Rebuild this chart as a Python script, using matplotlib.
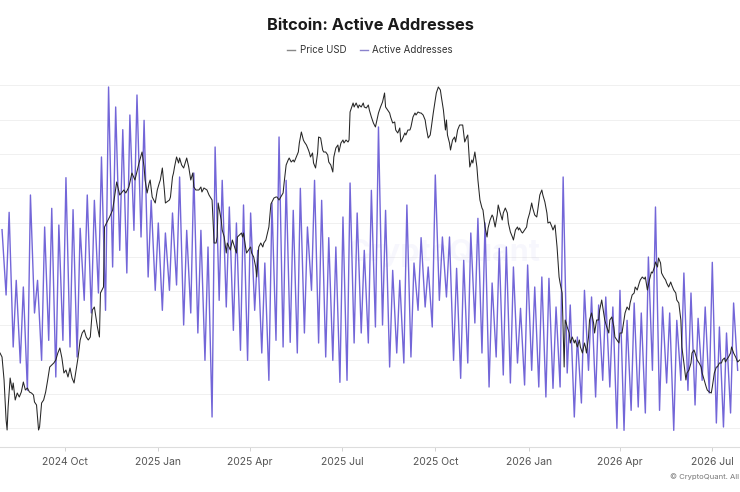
import numpy as np
import pandas as pd
import matplotlib
matplotlib.use("Agg")
import matplotlib.pyplot as plt
from matplotlib.lines import Line2D

plt.rcParams['font.family'] = ['Inter', 'DejaVu Sans']

# ---------------- data ----------------
START = pd.Timestamp("2024-07-29")
END = START + pd.Timedelta(days=729.3)

tick_dates = ["2024-10-01", "2025-01-01", "2025-04-01", "2025-07-01",
              "2025-10-01", "2026-01-01", "2026-04-01", "2026-07-01"]
tick_labels = ["2024 Oct", "2025 Jan", "2025 Apr", "2025 Jul",
               "2025 Oct", "2026 Jan", "2026 Apr", "2026 Jul"]

# Active addresses (thousands): weekly weekday highs (Wed) and weekend lows (Sun)
aa_first_peak = "2024-07-31"
aa_peaks = [776, 802, 700, 690, 828, 700, 780, 808, 783, 854,
            806, 778, 828, 820, 885, 990, 960, 926, 948, 978,
            940, 820, 786, 771, 801, 855, 775, 861, 775, 750,
            900, 850, 810, 786, 813, 801, 745, 726, 816, 915,
            850, 805, 838, 780, 850, 820, 764, 750, 795, 846,
            801, 745, 835, 930, 805, 715, 700, 813, 726, 764,
            720, 858, 765, 765, 718, 730, 771, 793, 786, 696,
            748, 750, 720, 658, 723, 690, 705, 703, 660, 855,
            663, 615, 685, 675, 663, 675, 660, 685, 640, 666,
            651, 735, 810, 660, 651, 640, 711, 681, 643, 660,
            727, 630, 621, 666]
aa_troughs = [678, 600, 576, 535, 651, 580, 610, 555, 610, 600,
              585, 670, 651, 681, 655, 720, 745, 711, 775, 765,
              705, 685, 655, 685, 693, 633, 651, 621, 580, 495,
              670, 660, 625, 595, 580, 655, 591, 550, 610, 600,
              607, 591, 621, 685, 606, 585, 580, 547, 550, 606,
              621, 606, 630, 633, 570, 591, 576, 585, 655, 660,
              630, 670, 675, 580, 553, 576, 636, 591, 540, 585,
              558, 546, 576, 543, 565, 540, 525, 538, 540, 561,
              495, 516, 565, 525, 550, 540, 478, 475, 505, 510,
              501, 565, 505, 546, 475, 550, 535, 513, 550, 531,
              486, 480, 501, 565]

# Price USD (thousands), day offset from START
price_day = [0, 2, 4, 6, 7, 8, 10, 12, 13, 15,
             17, 19, 21, 23, 25, 27, 29, 31, 33, 34,
             36, 38, 39, 41, 43, 45, 47, 49, 51, 53,
             55, 57, 59, 61, 63, 65, 67, 69, 71, 73,
             75, 77, 79, 81, 83, 85, 87, 89, 91, 93,
             95, 96, 98, 99, 102, 103, 105, 108, 111, 115,
             118, 122, 124, 127, 130, 133, 137, 140, 142, 143,
             145, 147, 148, 150, 153, 155, 157, 158, 160, 162,
             163, 167, 168, 170, 171, 172, 174, 176, 177, 179,
             181, 184, 186, 188, 190, 191, 193, 196, 198, 199,
             201, 204, 206, 209, 211, 213, 214, 215, 218, 219,
             221, 223, 224, 227, 229, 233, 234, 238, 239, 240,
             242, 243, 247, 248, 250, 252, 253, 255, 257, 259,
             260, 262, 265, 267, 268, 270, 272, 273, 275, 279,
             280, 282, 284, 285, 287, 289, 290, 292, 294, 295,
             297, 299, 300, 302, 304, 305, 306, 308, 309, 311,
             313, 314, 316, 318, 319, 321, 323, 324, 326, 328,
             329, 331, 333, 334, 336, 338, 339, 341, 343, 344,
             345, 348, 349, 351, 353, 354, 356, 358, 359, 361,
             363, 364, 366, 368, 370, 372, 373, 374, 375, 377,
             379, 380, 382, 384, 385, 387, 389, 390, 392, 394,
             395, 397, 399, 400, 402, 404, 405, 407, 409, 410,
             412, 414, 415, 417, 419, 420, 422, 424, 425, 427,
             429, 430, 432, 434, 435, 437, 439, 440, 441, 443,
             444, 446, 448, 449, 451, 453, 456, 458, 460, 461,
             463, 465, 466, 468, 470, 471, 473, 475, 476, 478,
             480, 481, 483, 485, 486, 488, 490, 491, 493, 495,
             496, 498, 500, 501, 503, 505, 506, 508, 510, 511,
             512, 514, 515, 517, 519, 520, 522, 524, 525, 527,
             529, 530, 532, 534, 535, 537, 539, 540, 542, 544,
             545, 547, 549, 551, 552, 554, 556, 557, 558, 559,
             561, 562, 564, 566, 567, 569, 571, 572, 574, 576,
             577, 578, 580, 581, 583, 585, 586, 588, 590, 591,
             593, 595, 596, 598, 600, 601, 603, 605, 606, 608,
             610, 611, 613, 615, 616, 618, 620, 621, 623, 625,
             626, 628, 630, 631, 633, 635, 636, 638, 640, 642,
             643, 645, 646, 648, 649, 651, 652, 654, 656, 657,
             659, 661, 662, 664, 666, 667, 669, 671, 672, 674,
             676, 677, 679, 681, 682, 684, 685, 687, 689, 691,
             692, 694, 696, 697, 699, 701, 702, 704, 706, 707,
             709, 711, 712, 714, 715, 716, 718, 720, 721, 723,
             725, 727, 729]
price_k = [70.8, 70.0, 65.4, 57.4, 55.4, 60.0, 65.8, 63.4, 64.8, 61.4,
           62.8, 62.0, 63.0, 65.0, 63.4, 63.8, 63.0, 62.8, 62.4, 61.0,
           60.4, 55.4, 56.0, 60.8, 61.4, 63.0, 65.4, 68.0, 68.4, 68.8,
           69.4, 70.8, 71.8, 69.8, 66.8, 67.4, 66.0, 67.8, 65.8, 64.8,
           67.4, 70.0, 73.4, 74.8, 75.4, 74.0, 73.4, 74.0, 79.4, 80.0,
           77.4, 76.0, 74.0, 82.8, 84.0, 96.0, 96.8, 98.0, 99.4, 105.0,
           102.4, 103.4, 102.8, 104.0, 106.8, 105.4, 108.8, 111.0, 108.0, 105.4,
           102.8, 104.8, 105.4, 102.0, 100.8, 103.4, 104.8, 105.4, 107.8, 103.4,
           100.8, 101.4, 102.0, 106.0, 106.8, 108.0, 110.0, 108.8, 109.8, 108.4,
           107.8, 109.8, 108.0, 105.4, 106.8, 104.0, 103.4, 103.4, 104.0, 103.0,
           103.8, 103.4, 102.4, 101.4, 92.8, 92.8, 94.0, 100.8, 97.4, 95.4,
           94.0, 90.8, 92.8, 91.4, 93.4, 90.8, 94.0, 94.8, 94.0, 94.8,
           92.0, 90.8, 92.0, 90.8, 90.0, 88.0, 86.0, 92.0, 92.8, 92.0,
           92.8, 93.4, 96.0, 100.6, 101.0, 101.8, 102.0, 102.0, 101.4, 102.8,
           104.8, 108.4, 109.4, 109.8, 109.0, 109.4, 109.0, 110.0, 111.0, 112.8,
           115.0, 113.4, 113.0, 112.4, 111.4, 110.8, 110.0, 110.8, 108.8, 107.8,
           110.8, 114.0, 113.8, 111.4, 111.0, 111.0, 110.4, 109.0, 108.4, 107.0,
           110.0, 111.8, 112.4, 111.0, 112.8, 113.4, 112.8, 113.4, 113.0, 113.4,
           119.0, 120.8, 120.0, 120.8, 119.8, 120.4, 120.0, 120.8, 120.0, 119.8,
           120.4, 119.4, 118.0, 116.8, 116.0, 117.8, 118.8, 119.4, 120.0, 121.0,
           122.8, 120.0, 119.4, 118.8, 118.0, 116.8, 117.0, 115.4, 114.8, 115.8,
           113.0, 113.8, 114.8, 114.4, 115.4, 115.4, 116.0, 118.0, 118.8, 118.4,
           119.0, 118.8, 118.8, 118.4, 117.4, 116.0, 113.8, 114.4, 115.8, 118.8,
           121.4, 122.8, 124.0, 123.4, 122.0, 119.4, 115.4, 117.4, 114.4, 112.8,
           111.4, 113.4, 114.0, 113.0, 115.4, 116.4, 116.4, 113.0, 114.0, 114.4,
           108.0, 109.4, 108.8, 111.0, 108.0, 105.4, 101.4, 99.8, 99.4, 96.0,
           94.0, 95.8, 97.4, 98.4, 98.0, 96.0, 98.4, 100.4, 98.8, 97.4,
           98.8, 99.8, 98.8, 96.8, 95.0, 94.0, 93.4, 95.4, 96.0, 95.4,
           95.8, 95.0, 94.8, 95.4, 96.0, 97.4, 98.8, 100.8, 99.8, 98.4,
           98.0, 99.4, 102.4, 103.4, 102.4, 101.0, 98.8, 96.8, 97.0, 96.0,
           95.4, 96.4, 92.0, 86.0, 84.8, 82.8, 68.0, 77.4, 76.8, 76.0,
           74.8, 72.8, 74.0, 72.8, 73.4, 72.0, 73.4, 72.0, 70.8, 72.8,
           72.0, 70.8, 74.0, 77.4, 78.8, 76.8, 74.8, 77.4, 77.4, 79.4,
           81.4, 78.8, 77.4, 76.0, 74.8, 77.4, 78.0, 76.0, 74.0, 73.4,
           72.8, 74.8, 74.8, 77.4, 78.8, 80.0, 79.4, 80.8, 82.4, 82.8,
           84.0, 83.4, 84.8, 85.4, 86.0, 85.6, 86.0, 83.4, 85.4, 87.0,
           86.8, 88.0, 89.0, 88.0, 89.8, 88.8, 86.8, 86.0, 85.4, 84.8,
           84.0, 85.0, 84.4, 83.4, 82.8, 81.4, 80.8, 77.4, 72.0, 68.8,
           65.4, 66.8, 67.4, 68.8, 70.8, 71.4, 70.8, 69.4, 68.8, 68.0,
           66.8, 65.4, 64.0, 63.4, 63.0, 62.8, 64.0, 66.8, 68.0, 68.0,
           68.8, 68.8, 69.4, 69.8, 69.0, 69.4, 70.0, 70.8, 72.0, 70.8,
           70.0, 69.0, 69.4]

# ---------------- assemble ----------------
n = len(aa_peaks)
peak_dates = pd.date_range(aa_first_peak, periods=n, freq="7D")
trough_dates = peak_dates + pd.Timedelta(days=4)
aa_dates = np.empty(2 * n, dtype="datetime64[ns]")
aa_dates[0::2] = peak_dates.values
aa_dates[1::2] = trough_dates.values
aa_vals = np.empty(2 * n)
aa_vals[0::2] = aa_peaks
aa_vals[1::2] = aa_troughs

price_dates = START + pd.to_timedelta(price_day, unit="D")
price_vals = np.array(price_k)

PURPLE = "#7366d8"
W, H = 740, 492

fig = plt.figure(figsize=(W / 100, H / 100), dpi=100)
fig.patch.set_facecolor("white")
ax = fig.add_axes([0, 1 - 447 / H, 1, 362 / H])

ax.plot(aa_dates, aa_vals * 1000, color=PURPLE, lw=1.0, zorder=3)
ax.set_ylim(450e3, 993e3)
ax.set_yticks(np.arange(478e3, 1000e3, 51.45e3))
ax.set_yticklabels([])
ax.tick_params(axis="y", length=0)
ax.grid(axis="y", color="#f0f0f0", lw=0.7, zorder=0)
ax.set_axisbelow(True)

ax2 = ax.twinx()
ax2.plot(price_dates, price_vals * 1000, color="#262626", lw=0.75, zorder=4)
ax2.set_ylim(52e3, 124.4e3)
ax2.set_yticks([])

for sp in ["top", "left", "right"]:
    ax.spines[sp].set_visible(False)
for sp in ax2.spines.values():
    sp.set_visible(False)
ax.spines["bottom"].set_color("#dddddd")
ax.spines["bottom"].set_linewidth(0.8)

ax.set_xlim(START, END)
ax.set_xticks(pd.to_datetime(tick_dates))
ax.set_xticklabels(tick_labels)
ax.tick_params(axis="x", length=3, width=0.6, color="#cccccc",
               labelsize=7.5, labelcolor="#555555", pad=4)

ax.text(0.6, 0.535, "CryptoQuant", transform=ax.transAxes, fontsize=22,
        fontweight="bold", color=PURPLE, alpha=0.05, ha="center", va="center", zorder=1)

fig.text(0.5, 1 - 26 / H, "Bitcoin: Active Addresses", ha="center", va="center",
         fontsize=11.8, fontweight="bold", color="#1a1a1a")

handles = [Line2D([], [], color="#888888", lw=1.0), Line2D([], [], color="#8a82cc", lw=1.0)]
fig.legend(handles, ["Price USD", "Active Addresses"], loc="center",
           bbox_to_anchor=(0.5, 1 - 50 / H), ncol=2, frameon=False, fontsize=7.0,
           handlelength=0.8, handletextpad=0.45, columnspacing=1.4, labelcolor="#333333")

fig.text(0.999, 1 - 477 / H, "\u00a9 CryptoQuant. All", fontsize=5.5,
         color="#777777", ha="right", va="center")

fig.savefig("out.png", dpi=100, facecolor="white")
